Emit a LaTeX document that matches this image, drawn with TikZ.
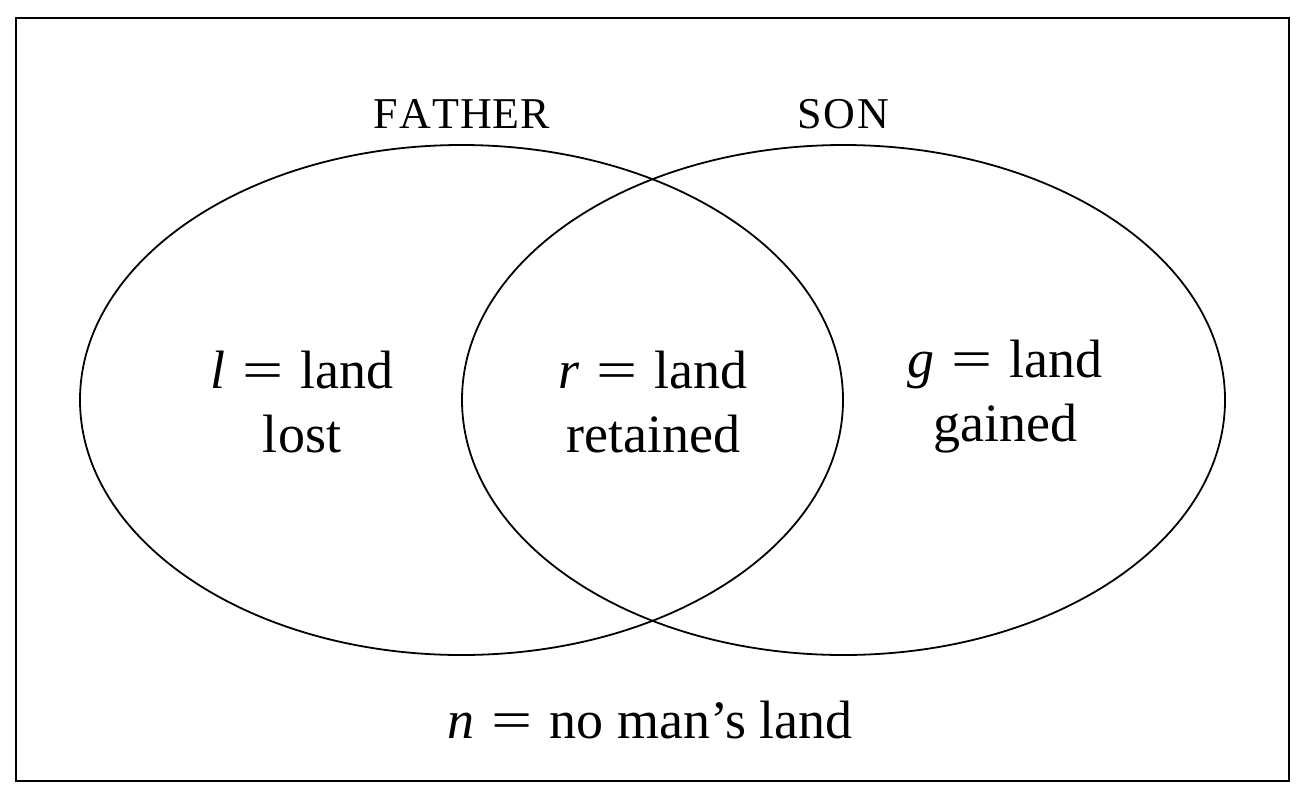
\documentclass[tikz,border=0pt]{standalone}
\usepackage{fontspec}
\setmainfont{Liberation Serif}
\usepackage{graphicx}
\usepackage{tikz}
\usetikzlibrary{positioning}
\newcommand{\iseq}{\hspace{0.32em}\scalebox{1.35}[1]{=}\hspace{0.32em}}

\begin{document}
\begin{tikzpicture}[x=0.5pt,y=-0.5pt]
\tikzset{region label/.style={
    align=center,
    inner sep=0pt,
    font=\fontsize{27}{32}\selectfont
  },
  set name/.style={
    inner sep=0pt,
    font=\fontsize{22}{26}\selectfont
  },
  set line/.style={line width=0.9pt}
}
\useasboundingbox (0,0) rectangle (1304,798);
\draw[line width=1pt] (16,18) rectangle (1289,781);
\draw[set line] (461.5,400) ellipse [x radius=381.5, y radius=255];
\draw[set line] (843.5,400) ellipse [x radius=381.5, y radius=255];
\node[set name] (father) at (462,114) {F\kern0.5ptA\kern0.5ptT\kern0.5ptH\kern0.5ptE\kern0.5ptR};
\node[set name] (son) at (843,114) {S\kern1ptO\kern1ptN};
\node[region label] (lost) at (302,402) {\textit{l}\iseq land\\lost};
\node[region label] (retained) at (653,402) {\textit{r}\iseq land\\retained};
\node[region label] (gained) at (1005,397) {\textit{g}\iseq land\\gained};
\node[region label] (nomans) at (650,720) {\textit{n}\iseq no man’s land};
\end{tikzpicture}
\end{document}
